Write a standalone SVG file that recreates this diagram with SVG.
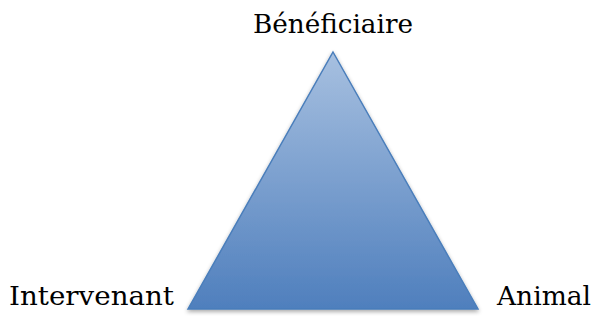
<svg xmlns="http://www.w3.org/2000/svg" width="599" height="320" viewBox="0 0 599 320">
<style>
.lbl{font-family:"DejaVu Serif","Liberation Serif",serif;font-size:26px;fill:#000}
</style>
<defs>
<linearGradient id="g" x1="0" y1="0" x2="0" y2="1">
<stop offset="0" stop-color="#a7c0e0"/>
<stop offset="1" stop-color="#4f7fbd"/>
</linearGradient>
<filter id="sh" x="-10%" y="-10%" width="120%" height="125%">
<feGaussianBlur in="SourceAlpha" stdDeviation="2"/>
<feOffset dy="2" result="b"/>
<feComponentTransfer><feFuncA type="linear" slope="0.35"/></feComponentTransfer>
<feMerge><feMergeNode/><feMergeNode in="SourceGraphic"/></feMerge>
</filter>
</defs>
<g id="triangle">
<polygon points="333,52 478,309 188,309" fill="url(#g)" stroke="#4a7ebb" stroke-width="1.5" filter="url(#sh)"/>
</g>
<g id="beneficiaire"><text class="lbl" x="333" y="33" text-anchor="middle" textLength="160" lengthAdjust="spacingAndGlyphs">Bénéficiaire</text></g>
<g id="intervenant"><text class="lbl" x="9" y="305" textLength="165" lengthAdjust="spacingAndGlyphs">Intervenant</text></g>
<g id="animal"><text class="lbl" x="497" y="305" textLength="94" lengthAdjust="spacingAndGlyphs">Animal</text></g>
<g id="connectors"/>
</svg>
